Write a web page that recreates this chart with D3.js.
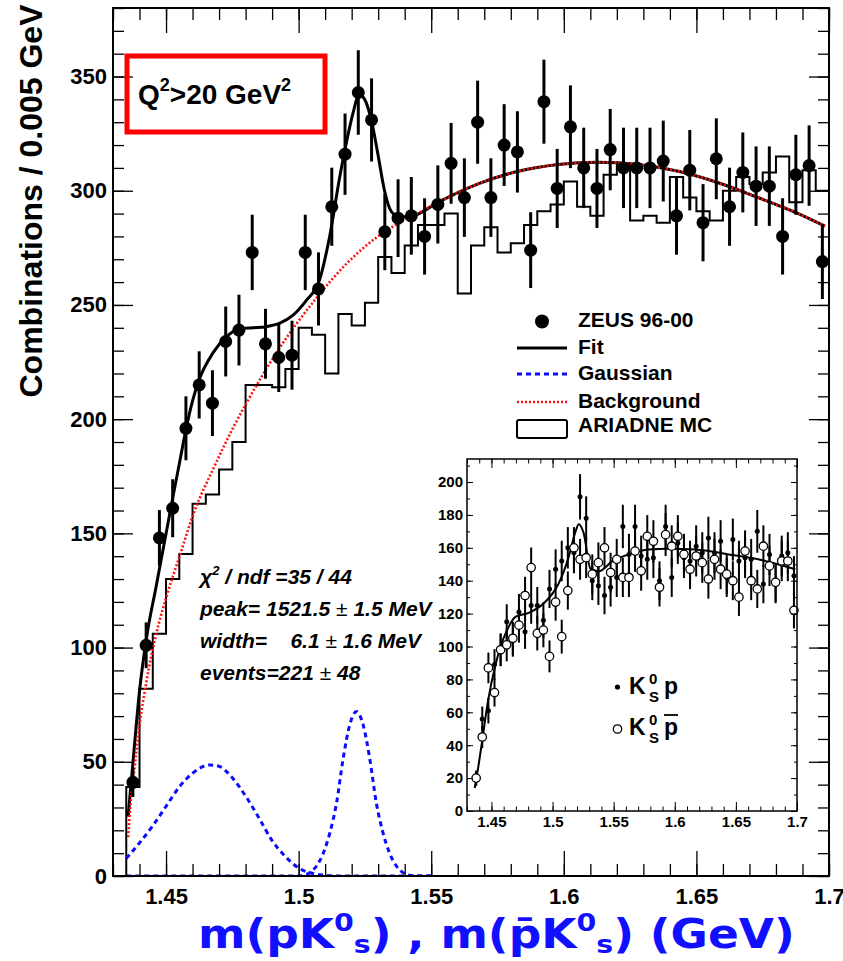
<!DOCTYPE html>
<html>
<head>
<meta charset="utf-8">
<title>ZEUS pK0s invariant mass</title>
<style>
body { margin: 0; background: #fff; }
svg { display: block; }
text { font-family: "Liberation Sans", Arial, Helvetica, sans-serif; fill: #000; }
.stats text { font-weight: bold; font-style: italic; font-size: 21px; white-space: pre; }
.legend { font-weight: bold; font-size: 21px; }
.pm { font-style: normal; font-weight: normal; }
</style>
</head>
<body>
<svg id="chart" width="843" height="961"></svg>
<script src="https://cdnjs.cloudflare.com/ajax/libs/d3/7.8.5/d3.min.js"></script>
<script>
// bin centres, 0.005 GeV bins
const massBins = [1.4375,1.4425,1.4475,1.4525,1.4575,1.4625,1.4675,1.4725,1.4775,1.4825,
  1.4875,1.4925,1.4975,1.5025,1.5075,1.5125,1.5175,1.5225,1.5275,1.5325,
  1.5375,1.5425,1.5475,1.5525,1.5575,1.5625,1.5675,1.5725,1.5775,1.5825,
  1.5875,1.5925,1.5975,1.6025,1.6075,1.6125,1.6175,1.6225,1.6275,1.6325,
  1.6375,1.6425,1.6475,1.6525,1.6575,1.6625,1.6675,1.6725,1.6775,1.6825,
  1.6875,1.6925,1.6975];
const binWidth = 0.005;

const zeusCounts = [41,101,148,161,196,215,207,234,239,273, 233,227,228,273,257,293,316,343,331,282,
  288,289,280,294,312,297,330,297,320,317, 274,339,301,328,310,301,318,310,310,310,
  313,289,309,286,314,293,308,302,302,280, 307,311,269];
const zeusErrors = [6.4,10,12.2,12.7,14,14.7,14.4,15.3,15.5,16.5, 15.3,15.1,15.1,16.5,16,17.1,17.8,18.5,18.2,16.8,
  17,17,16.7,17.1,17.7,17.2,18.2,17.2,17.9,17.8, 16.6,18.4,17.3,18.1,17.6,17.3,17.8,17.6,17.6,17.6,
  17.7,17,17.6,16.9,17.7,17.1,17.5,17.4,17.4,16.7, 17.5,17.6,16.4];
const ariadneCounts = [39,82,106,130,141,163,167,178,190,215, 215,214,222,240,237,220,246,241,251,271,
  264,276,285,285,290,255,276,284,273,277, 285,291,294,304,293,289,307,312,287,289,
  286,306,297,291,287,300,306,303,308,315, 295,309,300];

// fit curves
const fitMass = [1.4357,1.4377,1.44,1.4426,1.4463,1.4501,1.4526,1.4551,1.4576,1.46,1.4624,1.4677,1.4727,1.4775,
  1.4828,1.4878,1.4929,1.4979,1.5029,1.5079,1.5117,1.5155,1.518,1.5205,1.5228,1.5249,1.5274,1.5299,1.5324,
  1.5349,1.5381,1.5431,1.5527,1.5677,1.5828,1.5979,1.613,1.6281,1.6432,1.6582,1.6733,1.6884,1.6985];
const fitValues = [26,52,81,104,127,150.5,166,181,196,208,217,229,236,239.5,
  240,240.5,242,245.5,252,261,280,306,321,334,342,340,331,316,300,
  291,288.5,289,295,303,308.5,311.5,312.5,311.5,308.5,303.5,297,290,284.5];
const bgMass = [1.4357,1.4365,1.4377,1.44,1.4426,1.4463,1.4501,1.4551,1.4608,1.4677,1.4752,1.4803,1.4916,
  1.5067,1.518,1.533,1.538,1.5431,1.5527,1.5677,1.5828,1.5979,1.613,1.6281,1.6432,1.6582,1.6733,1.6884,1.6985];
const bgValues = [17,30,43,66,85,106,122,140,160,178,196,207,229,
  253,268,282.5,286,289,295,303,308.5,311.5,312.5,311.5,308.5,303.5,297,290,284.5];
const gaussWideMass = [1.435,1.44,1.445,1.45,1.455,1.46,1.4665,1.47,1.475,1.48,1.485,1.49,1.495,1.5,1.505,1.51,1.515,1.52,1.55];
const gaussWideValues = [7.7,14.5,22,30.5,39,45,48.6,48,43,35,25.5,15.5,8.5,3.5,1.2,0.3,0,0,0];
const gaussNarrowMass = [1.435,1.4993,1.5018,1.5043,1.5068,1.5093,1.5118,1.5143,1.5168,1.5193,1.5218,
  1.5243,1.5268,1.5293,1.5318,1.5343,1.5368,1.5393,1.5418,1.5443,1.55];
const gaussNarrowValues = [0,0,0.4,1.5,4.5,10,19,32,51.5,66.3,72,66.3,51.5,32,19,10,4.5,1.5,0.4,0,0];

// inset: K0s p and K0s pbar separately
const kpCounts = [20,56,61,89,98,115,104,121,109,125, 125,116,135,147,152,160,157,191,178,140,
  137,131,136,142,173,156,173,155,153,154, 140,173,142,163,154,152,161,157,166,157,
  164,142,165,152,154,153,170,138,156,138, 155,157,143];
const kpErrors = [4.5,7.5,7.8,9.4,9.9,10.7,10.2,11,10.4,11.2, 11.2,10.8,11.6,12.1,12.3,12.6,12.5,13.8,13.3,11.8,
  11.7,11.4,11.7,11.9,13.2,12.5,13.2,12.4,12.4,12.4, 11.8,13.2,11.9,12.8,12.4,12.3,12.7,12.5,12.9,12.5,
  12.8,11.9,12.8,12.3,12.4,12.4,13,11.7,12.5,11.7, 12.4,12.5,12];
const kpbarCounts = [20,45,87,72,98,101,105,113,131,148, 108,110,94,127,106,134,160,153,154,144,
  151,160,145,153,142,142,158,146,167,164, 136,168,161,167,156,147,155,151,141,153,
  147,144,140,130,158,140,135,161,149,139, 152,152,122];
const kpbarErrors = [4.5,6.7,9.3,8.5,9.9,10,10.2,10.6,11.4,12.2, 10.4,10.5,9.7,11.3,10.3,11.6,12.6,12.4,12.4,12,
  12.3,12.6,12,12.4,11.9,11.9,12.6,12.1,12.9,12.8, 11.7,13,12.7,12.9,12.5,12.1,12.4,12.3,11.9,12.4,
  12.1,12,11.8,11.4,12.6,11.8,11.6,12.7,12.2,11.8, 12.3,12.3,11];
const insetFitMass = [1.4363,1.4395,1.4423,1.447,1.4532,1.4575,1.4622,1.4696,1.4805,1.4941,1.505,1.5132,1.5187,
  1.5214,1.5255,1.531,1.5378,1.5487,1.5623,1.5787,1.5951,1.6169,1.6442,1.6714,1.6986];
const insetFitValues = [14,28,42,66,88.6,100,109,118,120.4,127.2,138.3,154.5,169.7,
  174.4,168.8,147.3,145.7,151.7,156,159,159.5,159,156,152.5,147];

const legendLabels = ["ZEUS 96-00", "Fit", "Gaussian", "Background", "ARIADNE MC"];

const svg = d3.select("#chart");
svg.append("rect").attr("width", 843).attr("height", 961).attr("fill", "#fff");

const main = {left: 113, right: 829, top: 8, bottom: 876};
const x = d3.scaleLinear().domain([1.43, 1.7]).range([main.left, main.right]);
const y = d3.scaleLinear().domain([0, 380]).range([main.bottom, main.top]);

const fmt = d => String(+d.toFixed(2));

function drawAxes(sx, sy, box, o) {
    const g = svg.append("g");
    const clean = s => {
        s.select(".domain").remove();
        s.selectAll("line").attr("stroke", "#000").attr("stroke-width", o.tickWidth);
        s.attr("font-family", '"Liberation Sans", Arial, sans-serif').attr("font-size", o.font).attr("font-weight", "bold");
    };
    const xMaj = sx.ticks(6), xMin = sx.ticks(27);
    const yMaj = sy.ticks(o.yMajCount), yMin = sy.ticks(o.yMinCount);
    [[d3.axisBottom, box.bottom, true], [d3.axisTop, box.top, false]].forEach(([ax, pos, lab]) => {
        g.append("g").attr("transform", `translate(0,${pos})`)
            .call(ax(sx).tickValues(xMin).tickSize(-o.xMinLen).tickFormat("")).call(clean);
        g.append("g").attr("transform", `translate(0,${pos})`)
            .call(ax(sx).tickValues(xMaj).tickSize(-o.xLen).tickPadding(o.xPad).tickFormat(lab ? fmt : "")).call(clean);
    });
    [[d3.axisLeft, box.left, true], [d3.axisRight, box.right, false]].forEach(([ax, pos, lab]) => {
        g.append("g").attr("transform", `translate(${pos},0)`)
            .call(ax(sy).tickValues(yMin).tickSize(-o.yMinLen).tickFormat("")).call(clean);
        g.append("g").attr("transform", `translate(${pos},0)`)
            .call(ax(sy).tickValues(yMaj).tickSize(-o.yLen).tickPadding(o.yPad).tickFormat(lab ? d3.format("d") : "")).call(clean);
    });
    g.append("rect")
        .attr("x", box.left).attr("y", box.top)
        .attr("width", box.right - box.left).attr("height", box.bottom - box.top)
        .attr("fill", "none").attr("stroke", "#000").attr("stroke-width", o.frameWidth);
}

// clip for the main pad
svg.append("clipPath").attr("id", "mainClip").append("rect")
    .attr("x", main.left).attr("y", main.top)
    .attr("width", main.right - main.left).attr("height", main.bottom - main.top);
const plot = svg.append("g").attr("clip-path", "url(#mainClip)");

// ARIADNE MC histogram
const hist = d3.path();
hist.moveTo(x(massBins[0] - binWidth / 2), y(0));
massBins.forEach((m, i) => {
    hist.lineTo(x(m - binWidth / 2), y(ariadneCounts[i]));
    hist.lineTo(x(m + binWidth / 2), y(ariadneCounts[i]));
});
hist.lineTo(x(massBins[massBins.length - 1] + binWidth / 2), y(0));
plot.append("path").attr("d", hist.toString())
    .attr("fill", "none").attr("stroke", "#000").attr("stroke-width", 2);

const curve = (sx, sy) => d3.line().x(d => sx(d[0])).y(d => sy(d[1])).curve(d3.curveMonotoneX);
const pairs = (ms, vs) => ms.map((m, i) => [m, vs[i]]);

[[gaussWideMass, gaussWideValues], [gaussNarrowMass, gaussNarrowValues]].forEach(([ms, vs]) => {
    plot.append("path").attr("d", curve(x, y)(pairs(ms, vs)))
        .attr("fill", "none").attr("stroke", "#0a0aff").attr("stroke-width", 3)
        .attr("stroke-dasharray", "5,4");
});
plot.append("path").attr("d", curve(x, y)(pairs(fitMass, fitValues)))
    .attr("fill", "none").attr("stroke", "#000").attr("stroke-width", 3);
plot.append("path").attr("d", curve(x, y)(pairs(bgMass, bgValues)))
    .attr("fill", "none").attr("stroke", "#ff1010").attr("stroke-width", 2.6)
    .attr("stroke-dasharray", "2,2");

// ZEUS data
plot.append("g").selectAll("line").data(massBins).join("line")
    .attr("x1", d => x(d)).attr("x2", d => x(d))
    .attr("y1", (d, i) => y(zeusCounts[i] - zeusErrors[i]))
    .attr("y2", (d, i) => y(zeusCounts[i] + zeusErrors[i]))
    .attr("stroke", "#000").attr("stroke-width", 3);
plot.append("g").selectAll("circle").data(massBins).join("circle")
    .attr("cx", d => x(d)).attr("cy", (d, i) => y(zeusCounts[i]))
    .attr("r", 6.5).attr("fill", "#000");

drawAxes(x, y, main, {xLen: 25, xMinLen: 12, yLen: 20, yMinLen: 11, xPad: 12, yPad: 6,
    yMajCount: 8, yMinCount: 38, font: 22, tickWidth: 1.3, frameWidth: 2});

// Q2 box
svg.append("rect").attr("x", 127).attr("y", 56).attr("width", 198).attr("height", 76)
    .attr("fill", "none").attr("stroke", "#ff0000").attr("stroke-width", 5);
const q2 = svg.append("text").attr("x", 138).attr("y", 104).attr("font-size", 28).attr("font-weight", "bold");
q2.append("tspan").text("Q");
q2.append("tspan").attr("font-size", 18).attr("dy", -13).text("2");
q2.append("tspan").attr("dy", 13).text(">20 GeV");
q2.append("tspan").attr("font-size", 18).attr("dy", -13).text("2");

// legend
const lx0 = 517, lx1 = 567, ltx = 578;
const legendY = [327, 354, 380, 408, 432];
const leg = svg.append("g");
leg.append("circle").attr("cx", 542).attr("cy", 321.5).attr("r", 7).attr("fill", "#000");
leg.append("line").attr("x1", lx0).attr("x2", lx1).attr("y1", 348).attr("y2", 348)
    .attr("stroke", "#000").attr("stroke-width", 3);
leg.append("line").attr("x1", lx0).attr("x2", lx1).attr("y1", 374).attr("y2", 374)
    .attr("stroke", "#0a0aff").attr("stroke-width", 3).attr("stroke-dasharray", "5,4");
leg.append("line").attr("x1", lx0).attr("x2", lx1).attr("y1", 402).attr("y2", 402)
    .attr("stroke", "#ff1010").attr("stroke-width", 2.6).attr("stroke-dasharray", "2,2");
leg.append("rect").attr("x", lx0).attr("y", 420).attr("width", lx1 - lx0).attr("height", 18).attr("rx", 2)
    .attr("fill", "none").attr("stroke", "#000").attr("stroke-width", 2);
leg.selectAll("text.legend").data(legendLabels).join("text").attr("class", "legend")
    .attr("x", ltx).attr("y", (d, i) => legendY[i]).text(d => d);

// fit results
const stats = svg.append("g").attr("class", "stats");
const s1 = stats.append("text").attr("x", 200).attr("y", 584).attr("xml:space", "preserve");
s1.append("tspan").text("χ");
s1.append("tspan").attr("font-size", 13).attr("dy", -9).text("2");
s1.append("tspan").attr("dy", 9).text(" / ndf =35 / 44");
[["peak= 1521.5 ", " 1.5 MeV", 616], ["width=    6.1 ", " 1.6 MeV", 648], ["events=221 ", " 48", 680]]
    .forEach(([a, b, yy]) => {
        const t = stats.append("text").attr("x", 200).attr("y", yy).attr("xml:space", "preserve");
        t.append("tspan").text(a);
        t.append("tspan").attr("class", "pm").text("±");
        t.append("tspan").text(b);
    });

// inset
const ins = {left: 467, right: 797, top: 459, bottom: 811};
const xi = d3.scaleLinear().domain([1.43, 1.7]).range([ins.left, ins.right]);
const yi = d3.scaleLinear().domain([0, 214]).range([ins.bottom, ins.top]);
svg.append("rect").attr("x", ins.left).attr("y", ins.top)
    .attr("width", ins.right - ins.left).attr("height", ins.bottom - ins.top).attr("fill", "#fff");
const inset = svg.append("g");
inset.append("path").attr("d", curve(xi, yi)(pairs(insetFitMass, insetFitValues)))
    .attr("fill", "none").attr("stroke", "#000").attr("stroke-width", 2);
[[kpCounts, kpErrors], [kpbarCounts, kpbarErrors]].forEach(([vs, es]) => {
    inset.append("g").selectAll("line").data(massBins).join("line")
        .attr("x1", d => xi(d)).attr("x2", d => xi(d))
        .attr("y1", (d, i) => yi(vs[i] - es[i])).attr("y2", (d, i) => yi(vs[i] + es[i]))
        .attr("stroke", "#000").attr("stroke-width", 2);
});
inset.append("g").selectAll("circle").data(massBins).join("circle")
    .attr("cx", d => xi(d)).attr("cy", (d, i) => yi(kpCounts[i]))
    .attr("r", 2.5).attr("fill", "#000");
inset.append("g").selectAll("circle").data(massBins).join("circle")
    .attr("cx", d => xi(d)).attr("cy", (d, i) => yi(kpbarCounts[i]))
    .attr("r", 4.2).attr("fill", "#fff").attr("stroke", "#000").attr("stroke-width", 1.3);

drawAxes(xi, yi, ins, {xLen: 9, xMinLen: 4.5, yLen: 6, yMinLen: 3, xPad: 5, yPad: 4,
    yMajCount: 10, yMinCount: 21, font: 15, tickWidth: 1, frameWidth: 1.5});

// inset legend
const il = svg.append("g").attr("font-weight", "bold");
il.append("circle").attr("cx", 617.5).attr("cy", 687).attr("r", 2.6).attr("fill", "#000");
il.append("circle").attr("cx", 617.5).attr("cy", 729).attr("r", 4.2)
    .attr("fill", "#fff").attr("stroke", "#000").attr("stroke-width", 1.3);
[694, 735].forEach((by, k) => {
    il.append("text").attr("x", 629).attr("y", by).attr("font-size", 23).text("K");
    il.append("text").attr("x", 649).attr("y", by - 10).attr("font-size", 15).text("0");
    il.append("text").attr("x", 649).attr("y", by + 8).attr("font-size", 15).text("S");
    il.append("text").attr("x", 664).attr("y", by).attr("font-size", 23).text("p");
    if (k === 1) il.append("line").attr("x1", 664).attr("x2", 678).attr("y1", 715).attr("y2", 715)
        .attr("stroke", "#000").attr("stroke-width", 1.8);
});

// axis titles
const yt = svg.append("text").attr("transform", "rotate(-90)")
    .attr("x", -201).attr("y", 42).attr("text-anchor", "middle")
    .attr("font-size", 31).attr("font-weight", "bold").text("Combinations / 0.005 GeV");
const ytw = yt.node().getComputedTextLength();
yt.attr("font-size", 31 * 393 / ytw);

const tg = svg.append("g");
const tt = tg.append("text").attr("x", 0).attr("y", 0)
    .style("font-family", '"DejaVu Sans", Verdana, sans-serif').attr("font-weight", "bold")
    .attr("font-size", 40).style("fill", "#1010ff");
[["m(pK", ") , "], ["m(p\u0304K", ") (GeV)"]].forEach(([head, tail]) => {
    tt.append("tspan").text(head);
    tt.append("tspan").attr("font-size", 25).attr("dy", -17).text("0");
    tt.append("tspan").attr("font-size", 25).attr("dy", 22).text("s");
    tt.append("tspan").attr("dy", -5).text(tail);
});
const tw = tt.node().getBBox().width;
tg.attr("transform", `translate(198,948) scale(${597 / tw},1)`);
</script>
</body>
</html>
